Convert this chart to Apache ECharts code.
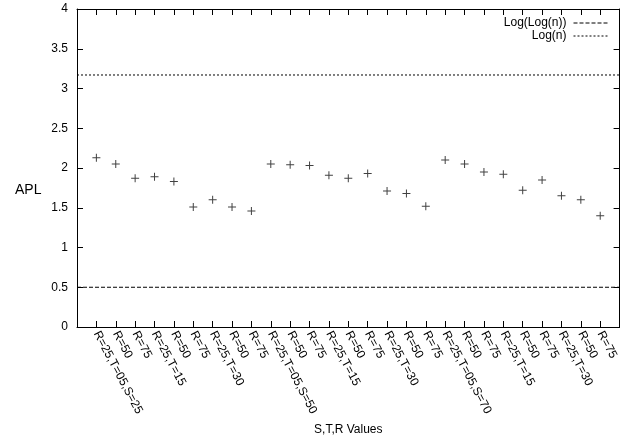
<!DOCTYPE html>
<html>
<head>
<meta charset="utf-8">
<script src="https://cdn.jsdelivr.net/npm/echarts@6/dist/echarts.min.js"></script>
<style>
html,body{margin:0;padding:0;background:#fff;}
#chart{width:621px;height:448px;}
</style>
</head>
<body>
<div id="chart"></div>
<script>
// Category labels (S,T,R configurations)
const categories = [
  "R=25,T=05,S=25","R=50","R=75","R=25,T=15","R=50","R=75","R=25,T=30","R=50","R=75",
  "R=25,T=05,S=50","R=50","R=75","R=25,T=15","R=50","R=75","R=25,T=30","R=50","R=75",
  "R=25,T=05,S=70","R=50","R=75","R=25,T=15","R=50","R=75","R=25,T=30","R=50","R=75"
];
// APL values
const aplValues = [
  2.13, 2.05, 1.87, 1.89, 1.83, 1.51, 1.60, 1.51, 1.46,
  2.05, 2.04, 2.03, 1.91, 1.87, 1.93, 1.71, 1.68, 1.52,
  2.10, 2.05, 1.95, 1.92, 1.72, 1.85, 1.65, 1.60, 1.40
];
// Reference levels
const logLogN = 0.5;
const logN = 3.17;
// Axis ticks
const yTicks = [0, 0.5, 1, 1.5, 2, 2.5, 3, 3.5, 4];

const xMin = 0, xMax = categories.length + 1;
const font = "'Liberation Sans', Arial, sans-serif";

const chart = echarts.init(document.getElementById('chart'), null, {renderer: 'canvas'});
const plusPath = 'path://M3.5,0h1v8h-1zM0,3.5h8v1h-8z';

chart.setOption({
  animation: false,
  backgroundColor: '#fff',
  grid: {left: 77, top: 9, width: 547, height: 318, containLabel: false},
  legend: {
    orient: 'vertical',
    right: 12,
    top: 17,
    padding: 0,
    align: 'right',
    itemWidth: 35,
    itemHeight: 10,
    itemGap: 1,
    itemStyle: {opacity: 0},
    lineStyle: {width: 1},
    textStyle: {fontFamily: font, fontSize: 12, lineHeight: 10, color: '#000', padding: [0, 2, 0, 0]},
    data: ['Log(Log(n))', 'Log(n)']
  },
  xAxis: [{
    type: 'value', min: xMin, max: xMax, interval: 1,
    position: 'bottom',
    name: 'S,T,R Values', nameLocation: 'middle', nameGap: 93,
    nameTextStyle: {fontFamily: font, fontSize: 12, color: '#000'},
    axisLine: {show: true, onZero: false, lineStyle: {color: '#000', width: 1}},
    axisTick: {show: true, inside: true, length: 6, lineStyle: {color: '#000'}},
    splitLine: {show: false},
    axisLabel: {
      rotate: -62, margin: 5, fontFamily: font, fontSize: 12, color: '#000',
      showMinLabel: true, showMaxLabel: true,
      formatter: v => (v >= 1 && v <= categories.length) ? categories[v - 1] : ''
    }
  }, {
    type: 'value', min: xMin, max: xMax, interval: 1,
    position: 'top',
    axisLine: {show: true, onZero: false, lineStyle: {color: '#000', width: 1}},
    axisTick: {show: true, inside: true, length: 6, lineStyle: {color: '#000'}},
    splitLine: {show: false},
    axisLabel: {show: false}
  }],
  yAxis: [{
    type: 'value', min: yTicks[0], max: yTicks[yTicks.length - 1], interval: 0.5,
    position: 'left',
    axisLine: {show: true, onZero: false, lineStyle: {color: '#000', width: 1}},
    axisTick: {show: true, inside: true, length: 6, lineStyle: {color: '#000'}},
    splitLine: {show: false},
    axisLabel: {margin: 9, fontFamily: font, fontSize: 12, color: '#000'}
  }, {
    type: 'value', min: yTicks[0], max: yTicks[yTicks.length - 1], interval: 0.5,
    position: 'right',
    axisLine: {show: true, onZero: false, lineStyle: {color: '#000', width: 1}},
    axisTick: {show: true, inside: true, length: 6, lineStyle: {color: '#000'}},
    splitLine: {show: false},
    axisLabel: {show: false}
  }],
  graphic: [{
    type: 'text', left: 15, top: 183,
    style: {text: 'APL', font: '14px ' + font, fill: '#000'}
  }],
  series: [{
    name: 'APL',
    type: 'scatter',
    symbol: plusPath,
    symbolSize: 8,
    itemStyle: {color: '#111'},
    data: aplValues.map((v, i) => [i + 1, v])
  }, {
    name: 'Log(Log(n))',
    type: 'line',
    symbol: 'none',
    lineStyle: {color: '#000', width: 1, type: [4, 2]},
    itemStyle: {color: '#000'},
    data: [[xMin, logLogN], [xMax, logLogN]]
  }, {
    name: 'Log(n)',
    type: 'line',
    symbol: 'none',
    lineStyle: {color: '#000', width: 1, type: [2, 2]},
    itemStyle: {color: '#000'},
    data: [[xMin, logN], [xMax, logN]]
  }]
});
</script>
</body>
</html>
